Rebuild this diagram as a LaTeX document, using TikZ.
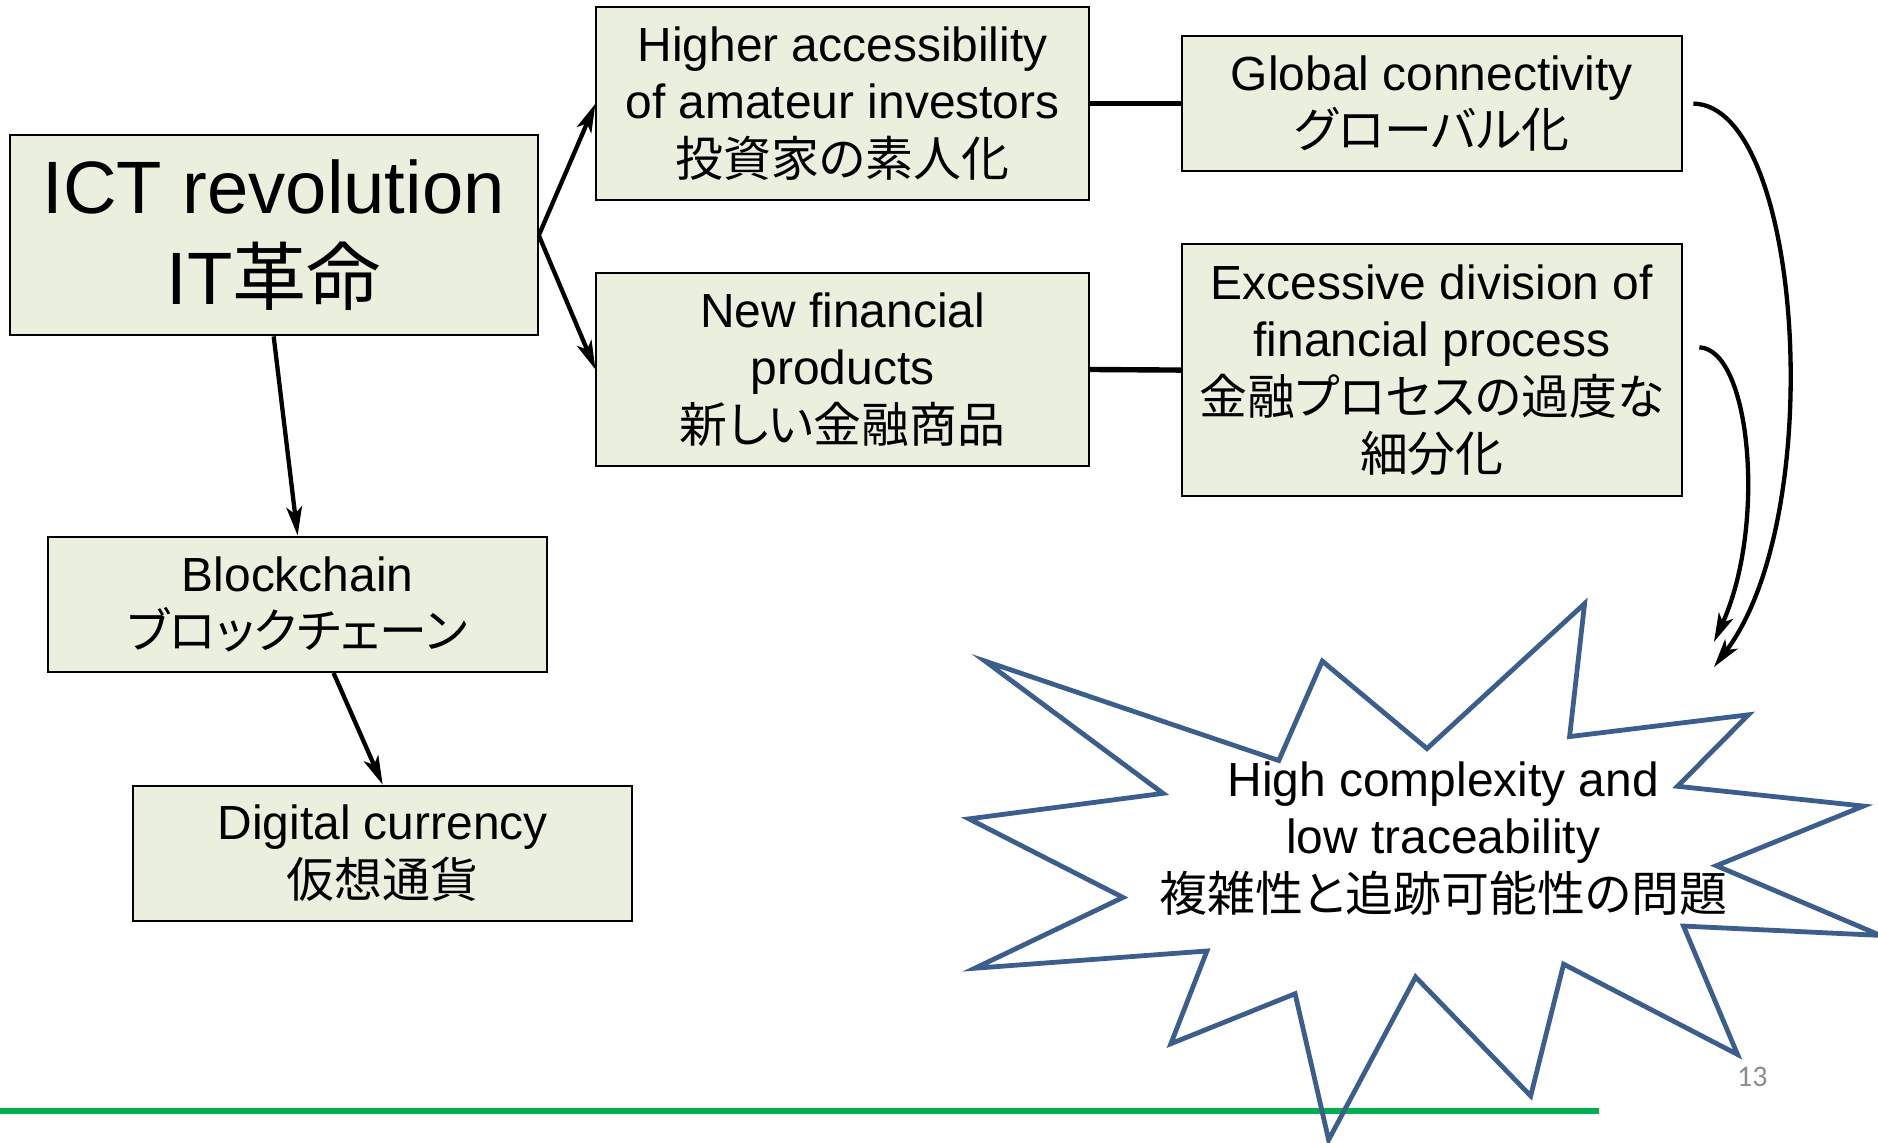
\documentclass[tikz,border=0pt]{standalone}
\usepackage{fontspec}
\setmainfont{Liberation Sans}
\newfontfamily\cjk[RawFeature=+palt]{Noto Sans CJK JP}
\newfontfamily\pgnum{Carlito}
\usetikzlibrary{arrows.meta}
\definecolor{boxfill}{HTML}{EBF0DE}
\definecolor{starblue}{HTML}{3B5E8C}
\definecolor{linegreen}{HTML}{00B050}
\definecolor{pggray}{HTML}{8C8C8C}
\begin{document}
\begin{tikzpicture}[x=1pt,y=-1pt,
  box/.style={draw=black, line width=1.7pt, fill=boxfill, align=center, inner sep=0pt, font=\fontsize{40}{48}\selectfont},
  arr/.style={-{Stealth[length=24pt,width=13pt,inset=6pt]}, line width=3.6pt},
  link/.style={line width=4.5pt},
  startext/.style={align=center, font=\fontsize{40}{48}\selectfont},
  starline/.style={draw=starblue, line width=4pt, line join=miter}]
\useasboundingbox (0,0) rectangle (1568,954.3);

% green base line
\draw[linegreen, line width=5pt] (0,928) -- (1335,928);
\node[text=pggray, font=\pgnum\fontsize{25}{30}\selectfont] (pg) at (1463,899) {13};

% boxes
\node[box, minimum width=441pt, minimum height=167pt, font=\fontsize{62}{76}\selectfont] (ict) at (228.5,196.5) {ICT revolution\\IT{\cjk 革命}};
\node[box, minimum width=411pt, minimum height=161pt] (higher) at (703.5,86.5) {Higher accessibility\\of amateur investors\\{\cjk 投資家の素人化}};
\node[box, minimum width=411pt, minimum height=161pt] (new) at (703.5,308.5) {New financial\\products\\{\cjk 新しい金融商品}};
\node[box, minimum width=417pt, minimum height=113pt] (global) at (1195.5,86.5) {Global connectivity\\{\cjk グローバル化}};
\node[box, minimum width=417pt, minimum height=210pt] (excess) at (1195.5,309) {Excessive division of\\financial process\\{\cjk 金融プロセスの過度な}\\{\cjk 細分化}};
\node[box, minimum width=417pt, minimum height=113pt] (block) at (248.5,504.5) {Blockchain\\{\cjk ブロックチェーン}};
\node[box, minimum width=417pt, minimum height=113pt] (digital) at (319.5,712.5) {Digital currency\\{\cjk 仮想通貨}};

% connectors
\draw[arr] (ict.east) -- (higher.west);
\draw[arr] (ict.east) -- (new.west);
\draw[arr] (ict.south) -- (block.north);
\draw[arr] ([xshift=30pt]block.south) -- (digital.north);
\draw[link] (higher.east) -- (global.west);
\draw[link] (new.east) -- (excess.west);

% star
\draw[starline] (822.5,552) -- (1067.7,635) -- (1104,552) -- (1191.4,625) -- (1323,504)
  -- (1310.5,615) -- (1459.8,596.8) -- (1400.6,656.5) -- (1555.8,673) -- (1433,722.8)
  -- (1570,781) -- (1405.6,773.2) -- (1450.7,880.4) -- (1305.5,805) -- (1278,915)
  -- (1181.9,815.7) -- (1109.3,951.7) -- (1081.3,829.7) -- (977.6,871.4) -- (1007.7,794)
  -- (814,808.4) -- (937.6,749.3) -- (809,683.7) -- (971,662.4) -- cycle;
\node[startext] (star) at (1205,700) {High complexity and\\low traceability\\{\cjk 複雑性と追跡可能性の問題}};

% curved arrows into the star
\coordinate (t1) at (1431,557);
\coordinate (t2) at (1431,536);
\draw[arr] ([xshift=9pt]global.east) .. controls (1505,88) and (1527,430) .. (t1);
\draw[arr] ([xshift=14pt,yshift=19pt]excess.east) .. controls (1462,292) and (1475,440) .. (t2);
\end{tikzpicture}
\end{document}
